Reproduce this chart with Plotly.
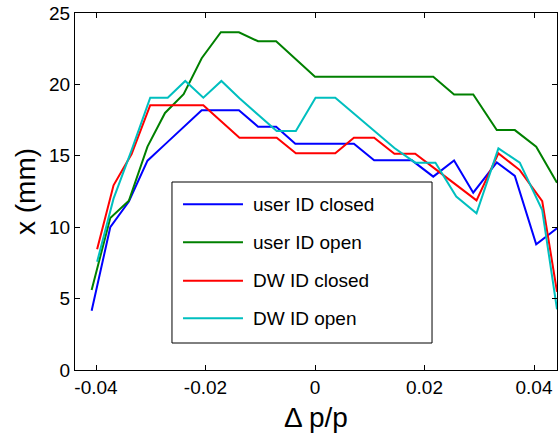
import plotly.graph_objects as go

# momentum deviation sample points (user ID scans and DW ID scans)
dp_user = [-0.0408, -0.0374, -0.0340, -0.0306, -0.0274, -0.0240, -0.0207, -0.0172,
           -0.0139, -0.0104, -0.0071, -0.0036, 0.0, 0.0036, 0.0071, 0.0108,
           0.0142, 0.0177, 0.0216, 0.0254, 0.0289, 0.0332, 0.0365, 0.0404, 0.0442]
dp_dw = [-0.0398, -0.0368, -0.0335, -0.0301, -0.0269, -0.0237, -0.0204, -0.0171,
         -0.0138, -0.0104, -0.0070, -0.0035, 0.0001, 0.0037, 0.0071, 0.0108,
         0.0145, 0.0183, 0.0220, 0.0258, 0.0295, 0.0335, 0.0374, 0.0415, 0.0442]

# horizontal aperture x (mm)
user_closed = [4.15, 10.0, 11.8, 14.66, 15.8, 17.0, 18.19, 18.19, 18.19, 17.04, 17.04,
               15.85, 15.85, 15.85, 15.85, 14.68, 14.68, 14.68, 13.54, 14.68, 12.42,
               14.54, 13.59, 8.80, 9.92]
user_open = [5.6, 10.65, 11.85, 15.64, 18.0, 19.31, 21.83, 23.65, 23.65, 23.02, 23.02,
             21.8, 20.54, 20.54, 20.54, 20.54, 20.54, 20.54, 20.54, 19.3, 19.3,
             16.8, 16.8, 15.64, 13.12]
dw_closed = [8.45, 12.93, 15.12, 18.54, 18.54, 18.54, 18.54, 17.4, 16.27, 16.27, 16.27,
             15.17, 15.17, 15.17, 16.27, 16.27, 15.15, 15.15, 14.07, 12.96, 11.88,
             15.17, 14.0, 11.83, 5.48]
dw_open = [7.58, 12.0, 15.4, 19.07, 19.07, 20.24, 19.07, 20.24, 19.03, 17.86, 16.73,
           16.73, 19.07, 19.07, 17.94, 16.76, 15.55, 14.52, 14.52, 12.14, 10.97,
           15.52, 14.52, 11.2, 4.25]

series_names = ["user ID closed", "user ID open", "DW ID closed", "DW ID open"]
series_colors = ["#0000FF", "#008000", "#FF0000", "#00BFBF"]
series_x = [dp_user, dp_user, dp_dw, dp_dw]
series_y = [user_closed, user_open, dw_closed, dw_open]

x_ticks = [-0.04, -0.02, 0, 0.02, 0.04]
x_ticklabels = ["-0.04", "-0.02", "0", "0.02", "0.04"]
y_ticks = [0, 5, 10, 15, 20, 25]

FONT = "Liberation Sans, Arial, Helvetica, sans-serif"

fig = go.Figure()
for name, color, xs, ys in zip(series_names, series_colors, series_x, series_y):
    fig.add_trace(go.Scatter(x=xs, y=ys, mode="lines", name=name,
                             line=dict(color=color, width=2), showlegend=False))

axis_common = dict(showline=True, linecolor="black", linewidth=1, mirror="ticks",
                   ticks="inside", ticklen=5, tickwidth=1, tickcolor="black",
                   showgrid=False, zeroline=False,
                   tickfont=dict(family=FONT, size=19, color="black"))

fig.update_xaxes(range=[-0.04384, 0.0442], tickvals=x_ticks, ticktext=x_ticklabels,
                 title=dict(text="Δ p/p", font=dict(family=FONT, size=28, color="black"),
                            standoff=11),
                 **axis_common)
fig.update_yaxes(range=[0, 25], tickvals=y_ticks,
                 title=dict(text="x (mm)", font=dict(family=FONT, size=28, color="black"),
                            standoff=5),
                 **axis_common)

# legend box drawn in paper coordinates
box = dict(x0=0.2012, x1=0.7407, y0=0.0756, y1=0.5266)
fig.add_shape(type="rect", xref="paper", yref="paper", **box,
              line=dict(color="black", width=1), fillcolor="white", layer="above")
row_y = [0.4641, 0.3577, 0.2501, 0.1448]
for name, color, ry in zip(series_names, series_colors, row_y):
    fig.add_shape(type="line", xref="paper", yref="paper", x0=0.2241, x1=0.3485,
                  y0=ry, y1=ry, line=dict(color=color, width=2), layer="above")
    fig.add_annotation(xref="paper", yref="paper", x=0.3651, y=ry, text=name,
                       showarrow=False, xanchor="left", yanchor="middle",
                       font=dict(family=FONT, size=19, color="black"))

fig.update_layout(width=558, height=433, margin=dict(l=75, r=1, t=13, b=63),
                  paper_bgcolor="white", plot_bgcolor="white",
                  font=dict(family=FONT, color="black"))

fig.write_html("out.html")
